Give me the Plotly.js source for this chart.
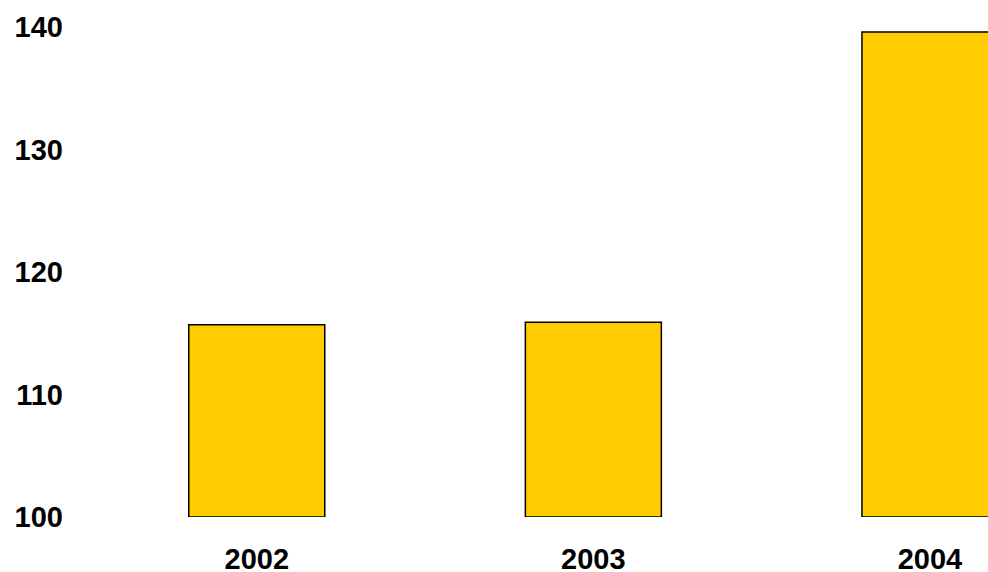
<!DOCTYPE html>
<html>
<head>
<meta charset="utf-8">
<script src="https://cdn.plot.ly/plotly-3.0.1.min.js"></script>
<style>html,body{margin:0;padding:0;background:#fff;}#chart{width:988px;height:572px;}</style>
</head>
<body>
<div id="chart"></div>
<script>
const years = ["2002", "2003", "2004"];
const values = [115.7, 115.9, 139.6];
const yTicks = [100, 110, 120, 130, 140];

const trace = {
  type: "bar",
  x: years,
  y: values.map(v => v - 100),
  base: 100,
  width: 0.404,
  marker: { color: "#FFCC00", line: { color: "#000000", width: 1.5 } },
  hoverinfo: "skip"
};

const layout = {
  width: 988,
  height: 572,
  margin: { l: 70, r: 0, t: 27, b: 55, pad: 0 },
  paper_bgcolor: "#ffffff",
  plot_bgcolor: "#ffffff",
  showlegend: false,
  font: { family: "Liberation Sans, Arial, sans-serif", size: 29, color: "#000000", weight: "bold" },
  xaxis: {
    type: "category",
    range: [-0.5548, 2.1724],
    showgrid: false, zeroline: false, showline: false,
    ticks: "",
    ticklabelstandoff: 22,
    tickfont: { family: "Liberation Sans, Arial, sans-serif", size: 29, color: "#000", weight: "bold" }
  },
  yaxis: {
    range: [100, 140],
    tickvals: yTicks,
    ticktext: yTicks.map(String),
    showgrid: false, zeroline: false, showline: false,
    ticks: "",
    ticklabelstandoff: 6,
    tickfont: { family: "Liberation Sans, Arial, sans-serif", size: 29, color: "#000", weight: "bold" }
  }
};

Plotly.newPlot("chart", [trace], layout, { displayModeBar: false, staticPlot: true });
</script>
</body>
</html>
